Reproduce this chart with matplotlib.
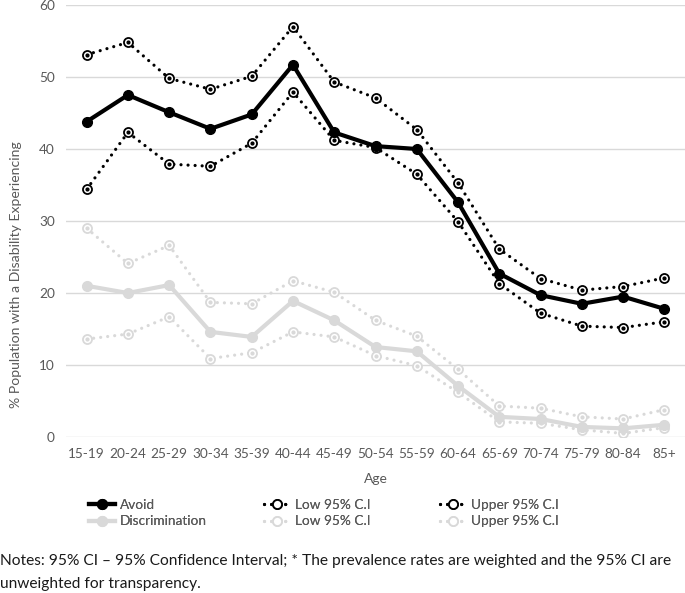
import matplotlib
matplotlib.use("Agg")
import matplotlib.pyplot as plt
from matplotlib.lines import Line2D

plt.rcParams['font.family'] = ['Lato', 'DejaVu Sans']

ages = ["15-19", "20-24", "25-29", "30-34", "35-39", "40-44", "45-49", "50-54",
        "55-59", "60-64", "65-69", "70-74", "75-79", "80-84", "85+"]
avoid = [43.8, 47.5, 45.1, 42.8, 44.8, 51.7, 42.3, 40.4, 40.0, 32.6, 22.7, 19.7, 18.5, 19.5, 17.8]
avoid_low = [34.4, 42.3, 37.9, 37.6, 40.8, 47.9, 41.2, 40.2, 36.5, 29.9, 21.3, 17.2, 15.4, 15.2, 16.0]
avoid_up = [53.1, 54.8, 49.8, 48.3, 50.1, 57.0, 49.3, 47.1, 42.7, 35.3, 26.1, 22.0, 20.4, 20.9, 22.1]
disc = [21.0, 20.0, 21.1, 14.6, 13.9, 18.9, 16.2, 12.5, 11.9, 7.1, 2.8, 2.5, 1.4, 1.2, 1.7]
disc_low = [13.6, 14.3, 16.7, 10.9, 11.7, 14.6, 13.9, 11.3, 9.9, 6.2, 2.1, 1.9, 1.0, 0.5, 1.3]
disc_up = [29.0, 24.1, 26.6, 18.7, 18.5, 21.7, 20.1, 16.2, 14.0, 9.4, 4.3, 4.0, 2.8, 2.5, 3.8]
yticks = [0, 10, 20, 30, 40, 50, 60]

W, H = 685, 593
fig = plt.figure(figsize=(W / 100, H / 100), dpi=100)
ax = fig.add_axes([66 / W, 1 - 437 / H, 619 / W, 432 / H])

x = list(range(len(ages)))
BLACK = "#000000"
GRAY = "#d9d9d9"
TXT = "#595959"
dot_ls = (0, (0.01, 2.2))
DLW = 2.3

def ci(vals, color, z):
    ax.plot(x, vals, color=color, lw=DLW, ls=dot_ls, dash_capstyle='round',
            marker='o', ms=6.5, mfc='white', mec=color, mew=1.3, zorder=z)
    ax.plot(x, vals, ls='none', marker='o', ms=2.0, color=color, zorder=z + 0.1)

ci(disc_low, GRAY, 2)
ci(disc_up, GRAY, 2)
ax.plot(x, disc, color=GRAY, lw=3, marker='o', ms=7, zorder=3)
ci(avoid_low, BLACK, 4)
ci(avoid_up, BLACK, 4)
ax.plot(x, avoid, color=BLACK, lw=3, marker='o', ms=7, zorder=5)

ax.set_xlim(-0.5, len(ages) - 0.5)
ax.set_ylim(0, 60)
ax.set_yticks(yticks)
ax.set_xticks(x)
ax.set_xticklabels(ages)
ax.grid(axis='y', color='#d9d9d9', lw=1)
ax.set_axisbelow(True)
for s in ax.spines.values():
    s.set_visible(False)
ax.tick_params(length=0, labelsize=9.8, colors=TXT, pad=8)
ax.set_xlabel("Age", fontsize=10, color=TXT, labelpad=9)
ax.set_ylabel("% Population with a Disability Experiencing", fontsize=10.1, color=TXT)
ax.yaxis.set_label_coords((22 - 66) / 619, (437 - 275) / 432)

def h_main(c):
    return Line2D([], [], color=c, lw=3, marker='o', ms=7)

def h_ci(c):
    return Line2D([], [], color=c, lw=DLW, ls=dot_ls, dash_capstyle='round',
                  marker='o', ms=6.5, mfc='white', mec=c, mew=1.3)

cols = [
    (89, [h_main(BLACK), h_main(GRAY)], ["Avoid", "Discrimination"]),
    (264, [h_ci(BLACK), h_ci(GRAY)], ["Low 95% C.I", "Low 95% C.I"]),
    (440, [h_ci(BLACK), h_ci(GRAY)], ["Upper 95% C.I", "Upper 95% C.I"]),
]
for x0, hs, ls in cols:
    leg = fig.legend(hs, ls, loc='center left', bbox_to_anchor=(x0 / W, 1 - 513 / H),
                     frameon=False, fontsize=9.8, handlelength=1.9, borderpad=0,
                     borderaxespad=0, labelspacing=0.35, handletextpad=0.35,
                     labelcolor=TXT)
    fig.add_artist(leg)

fig.text(0, 1 - 561 / H, "Notes: 95% CI \u2013 95% Confidence Interval; * The prevalence rates are weighted and the 95% CI are",
         fontsize=11.2, color="#1a1a1a", va='center', ha='left')
fig.text(0, 1 - 584 / H, "unweighted for transparency.",
         fontsize=11.2, color="#1a1a1a", va='center', ha='left')

fig.savefig("out.png", dpi=100)
